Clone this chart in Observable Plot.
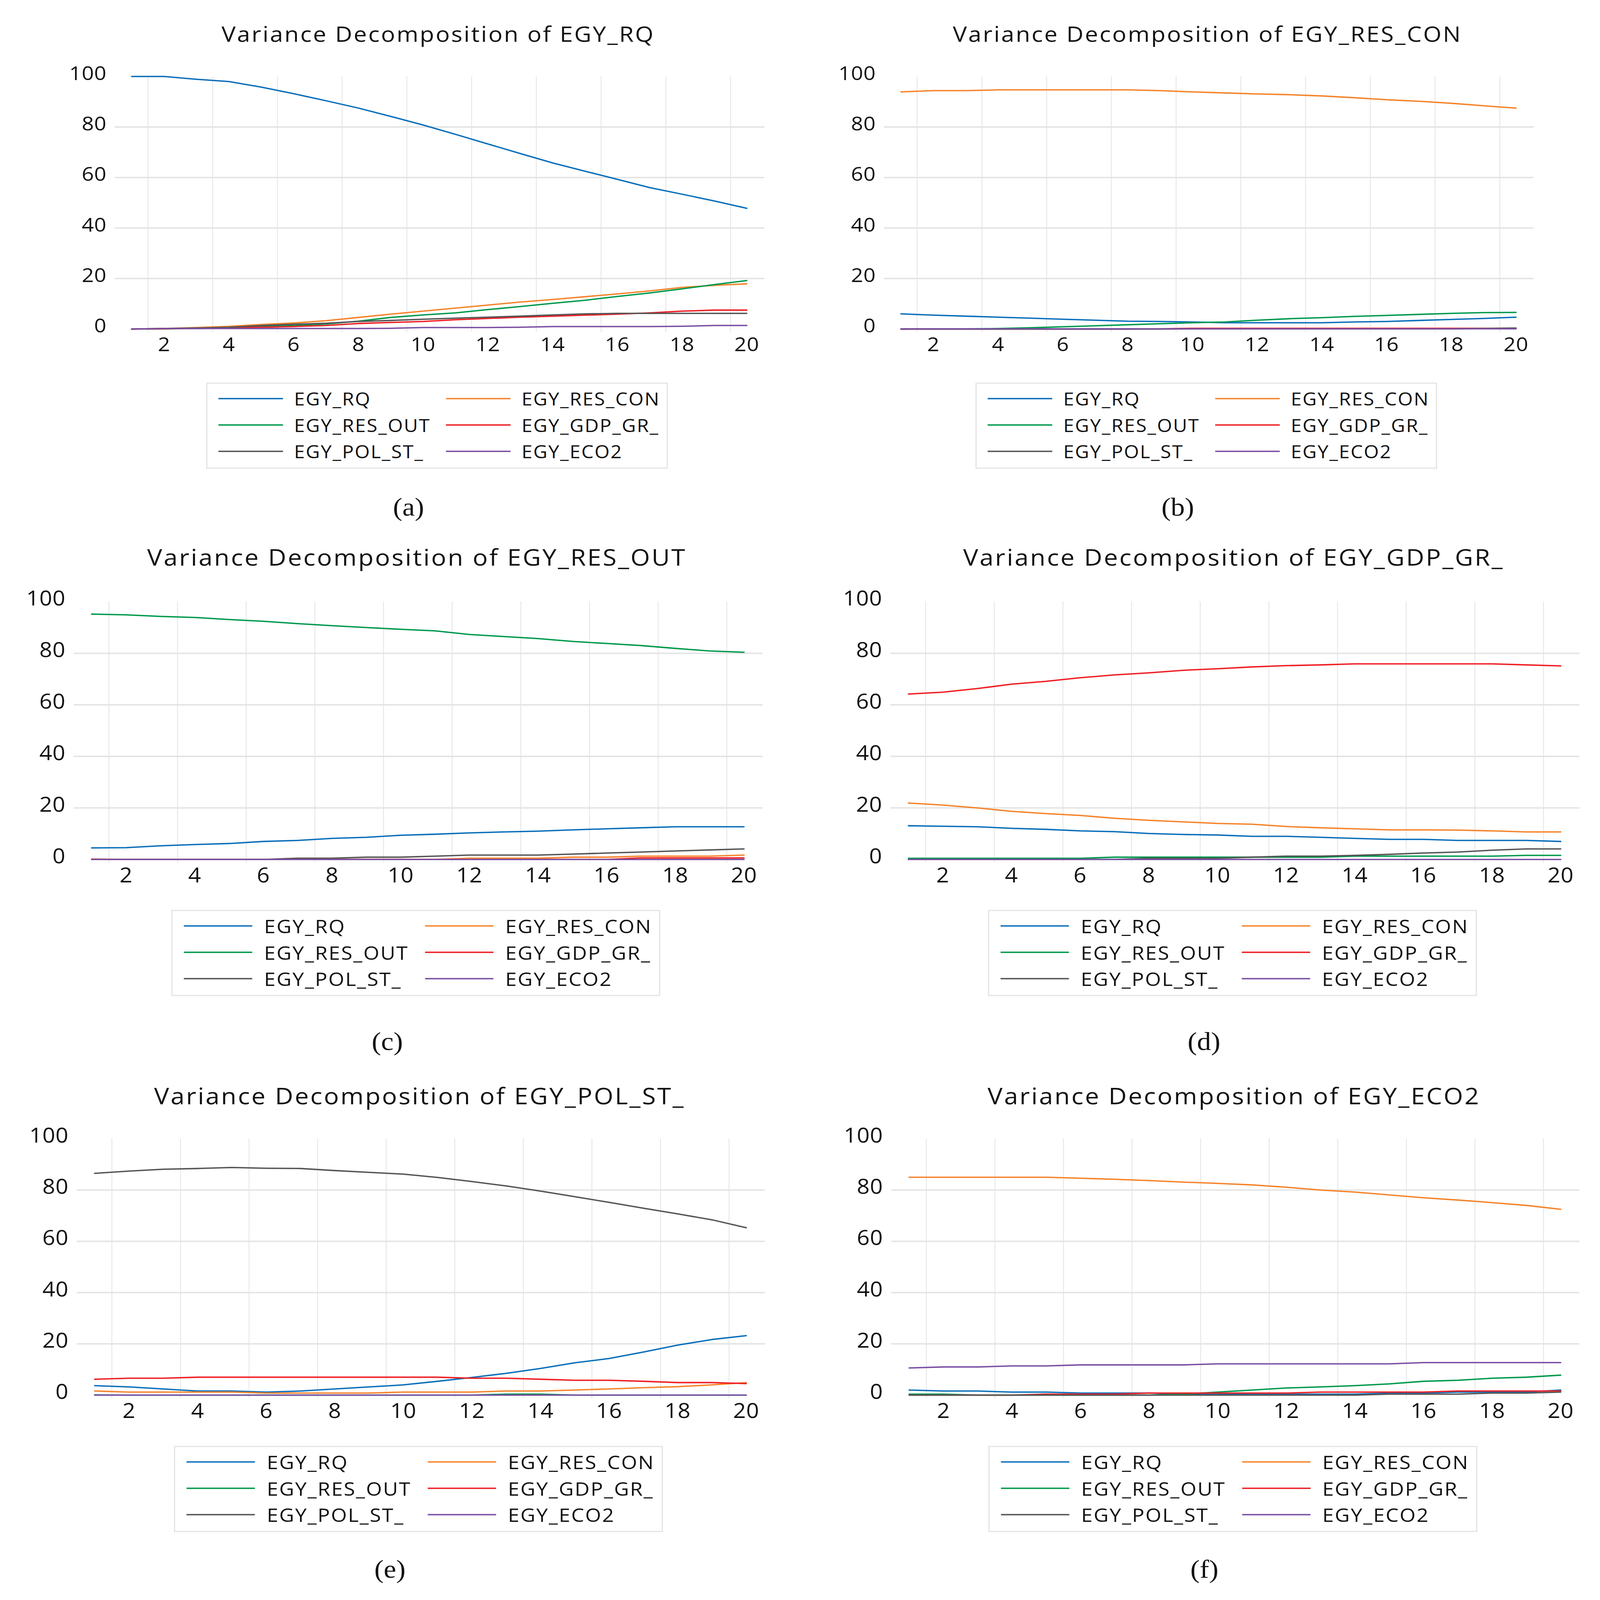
<!DOCTYPE html>
<html>
<head>
<meta charset="utf-8">
<script src="https://cdn.jsdelivr.net/npm/d3@7"></script>
<script src="https://cdn.jsdelivr.net/npm/@observablehq/plot@0.6"></script>
<style>
  html, body { margin: 0; padding: 0; background: #fff; overflow: hidden; }
  #page { position: relative; width: 4212px; height: 4612px; background: #fff; font-family: "Open Sans", sans-serif; color: #111; transform-origin: 0 0; }
  .title { position: absolute; white-space: nowrap; transform: translate(-50%, -50%); letter-spacing: 0.06em; }
  .lab { position: absolute; transform: translate(-50%, -50%); font-family: "Liberation Serif", serif; font-size: 74px; }
  .legend { position: absolute; border: 3px solid #e2e2e2; box-sizing: border-box; }
  .legend .sw { position: absolute; height: 4px; }
  .legend .tx { position: absolute; white-space: nowrap; transform: translateY(-50%); letter-spacing: 0.05em; }
  svg { overflow: visible; position: absolute; }
</style>
</head>
<body>
<div id="page"></div>
<script>
// horizons 1..20
const horizons = d3.range(1, 21);
const seriesNames = ["EGY_RQ", "EGY_RES_CON", "EGY_RES_OUT", "EGY_GDP_GR_", "EGY_POL_ST_", "EGY_ECO2"];
const seriesColors = ["#0b6fba", "#f5842c", "#00994c", "#ee1f25", "#555555", "#7a4fa3"];
const xTicks = [2, 4, 6, 8, 10, 12, 14, 16, 18, 20];
const yTicks = [0, 20, 40, 60, 80, 100];

// (a) Variance Decomposition of EGY_RQ
const a_RQ      = [100, 100, 98.9, 98.0, 95.8, 93.2, 90.4, 87.5, 84.2, 80.8, 77.1, 73.3, 69.5, 65.8, 62.5, 59.3, 56.0, 53.4, 50.7, 47.8];
const a_RES_CON = [0, 0.2, 0.6, 1.05, 1.8, 2.4, 3.3, 4.6, 5.9, 7.1, 8.3, 9.5, 10.7, 11.7, 12.8, 13.9, 15.1, 16.5, 17.3, 17.9];
const a_RES_OUT = [0, 0.1, 0.2, 0.5, 1.05, 1.4, 2.0, 3.1, 4.6, 5.6, 6.4, 7.7, 8.9, 10.2, 11.4, 12.9, 14.3, 15.9, 17.6, 19.2];
const a_GDP_GR  = [0, 0.1, 0.3, 0.5, 0.7, 1.0, 1.4, 2.2, 2.6, 3.0, 3.7, 4.2, 4.7, 5.1, 5.5, 5.9, 6.4, 7.1, 7.5, 7.5];
const a_POL_ST  = [0, 0.2, 0.4, 0.7, 1.4, 1.9, 2.3, 3.0, 3.4, 3.9, 4.3, 4.7, 5.1, 5.6, 6.0, 6.2, 6.2, 6.2, 6.2, 6.2];
const a_ECO2    = [0, 0.2, 0.2, 0.2, 0.2, 0.2, 0.2, 0.2, 0.3, 0.6, 0.6, 0.6, 0.7, 1.0, 1.0, 1.0, 1.0, 1.1, 1.4, 1.4];

// (b) Variance Decomposition of EGY_RES_CON
const b_RQ      = [6.0, 5.5, 5.1, 4.7, 4.3, 3.9, 3.5, 3.1, 3.0, 2.8, 2.5, 2.5, 2.5, 2.5, 2.8, 3.0, 3.4, 3.8, 4.2, 4.7];
const b_RES_CON = [93.9, 94.4, 94.4, 94.7, 94.7, 94.7, 94.7, 94.7, 94.4, 93.9, 93.5, 93.1, 92.8, 92.3, 91.6, 90.8, 90.2, 89.4, 88.4, 87.5];
const b_RES_OUT = [0, 0.1, 0.1, 0.2, 0.5, 0.9, 1.3, 1.7, 2.1, 2.5, 2.8, 3.5, 4.1, 4.5, 5.0, 5.4, 5.8, 6.2, 6.5, 6.6];
const b_GDP_GR  = [0, 0, 0, 0, 0, 0, 0, 0, 0.1, 0.3, 0.3, 0.3, 0.3, 0.3, 0.3, 0.3, 0.3, 0.3, 0.3, 0.3];
const b_POL_ST  = [0, 0, 0, 0, 0, 0, 0, 0, 0, 0.1, 0.1, 0.1, 0.1, 0.1, 0.1, 0.1, 0.1, 0.1, 0.2, 0.4];
const b_ECO2    = [0, 0.1, 0.1, 0.1, 0.1, 0.1, 0.1, 0.1, 0.1, 0.1, 0.1, 0.1, 0.1, 0.1, 0.1, 0.1, 0.1, 0.1, 0.1, 0.1];

// (c) Variance Decomposition of EGY_RES_OUT
const c_RQ      = [4.5, 4.6, 5.3, 5.8, 6.2, 7.0, 7.4, 8.2, 8.6, 9.4, 9.8, 10.3, 10.7, 11.0, 11.5, 11.9, 12.3, 12.7, 12.7, 12.7];
const c_RES_CON = [0.2, 0, 0, 0, 0, 0, 0, 0, 0, 0, 0, 0.5, 0.5, 0.5, 0.9, 0.9, 1.3, 1.3, 1.3, 1.7];
const c_RES_OUT = [95.2, 94.9, 94.3, 93.9, 93.1, 92.4, 91.5, 90.7, 90.0, 89.3, 88.7, 87.3, 86.5, 85.7, 84.6, 83.8, 83.0, 81.9, 80.9, 80.4];
const c_GDP_GR  = [0, 0, 0, 0, 0, 0, 0, 0, 0, 0, 0, 0, 0, 0, 0, 0, 0.6, 0.6, 0.6, 0.6];
const c_POL_ST  = [0, 0, 0, 0, 0, 0, 0.5, 0.5, 0.9, 0.9, 1.3, 1.7, 1.7, 1.7, 2.1, 2.5, 2.9, 3.3, 3.7, 4.1];
const c_ECO2    = [0, 0, 0, 0, 0, 0, 0, 0, 0, 0, 0, 0, 0, 0, 0, 0, 0, 0, 0, 0];

// (d) Variance Decomposition of EGY_GDP_GR_
const d_RQ      = [13.1, 12.9, 12.7, 12.1, 11.7, 11.1, 10.8, 10.1, 9.7, 9.5, 9.0, 9.0, 8.6, 8.2, 7.8, 7.8, 7.4, 7.4, 7.4, 7.0];
const d_RES_CON = [21.9, 21.1, 20.0, 18.7, 17.8, 17.1, 16.0, 15.2, 14.6, 14.0, 13.7, 12.8, 12.3, 11.9, 11.5, 11.5, 11.4, 11.1, 10.7, 10.7];
const d_RES_OUT = [0.45, 0.45, 0.45, 0.45, 0.45, 0.45, 0.9, 0.9, 0.9, 0.9, 0.9, 0.9, 0.9, 1.3, 1.3, 1.3, 1.3, 1.3, 1.6, 1.6];
const d_GDP_GR  = [64.2, 64.9, 66.3, 68.0, 69.1, 70.5, 71.6, 72.4, 73.4, 74.0, 74.7, 75.2, 75.5, 75.9, 75.9, 75.9, 75.9, 75.9, 75.5, 75.1];
const d_POL_ST  = [0, 0, 0, 0, 0, 0, 0, 0.45, 0.45, 0.45, 0.9, 1.3, 1.3, 1.6, 2.0, 2.5, 2.9, 3.6, 4.1, 4.1];
const d_ECO2    = [0, 0, 0, 0, 0, 0, 0, 0, 0, 0, 0, 0, 0, 0, 0, 0, 0, 0, 0, 0];

// (e) Variance Decomposition of EGY_POL_ST_
const e_RQ      = [3.7, 3.2, 2.4, 1.6, 1.6, 1.2, 1.6, 2.4, 3.2, 4.0, 5.4, 6.9, 8.5, 10.4, 12.6, 14.3, 16.8, 19.5, 21.7, 23.2];
const e_RES_CON = [1.6, 1.2, 1.2, 1.2, 1.2, 0.8, 0.8, 0.8, 0.8, 1.2, 1.2, 1.2, 1.6, 1.6, 2.0, 2.4, 2.9, 3.3, 4.0, 4.9];
const e_RES_OUT = [0.1, 0, 0, 0, 0, 0, 0, 0, 0, 0, 0, 0, 0.4, 0.4, 0, 0, 0, 0, 0, 0];
const e_GDP_GR  = [6.2, 6.6, 6.6, 7.0, 7.0, 7.0, 7.0, 7.0, 7.0, 7.0, 7.0, 6.6, 6.6, 6.2, 5.8, 5.8, 5.4, 4.9, 4.9, 4.5];
const e_POL_ST  = [86.5, 87.4, 88.1, 88.4, 88.8, 88.5, 88.4, 87.6, 86.9, 86.2, 84.9, 83.3, 81.6, 79.6, 77.4, 75.2, 72.9, 70.7, 68.4, 65.3];
const e_ECO2    = [0, 0, 0, 0, 0, 0, 0, 0, 0, 0, 0, 0, 0, 0, 0, 0, 0, 0, 0, 0];

// (f) Variance Decomposition of EGY_ECO2
const f_RQ      = [2.0, 1.6, 1.6, 1.2, 1.2, 0.8, 0.8, 0.8, 0.4, 0.4, 0.4, 0.4, 0.4, 0.4, 0.8, 0.8, 1.2, 1.2, 1.2, 2.0];
const f_RES_CON = [85.0, 85.0, 85.0, 85.0, 85.0, 84.6, 84.2, 83.7, 83.1, 82.6, 82.0, 81.1, 80.0, 79.2, 78.1, 77.0, 76.1, 75.1, 74.0, 72.5];
const f_RES_OUT = [0.4, 0.4, 0, 0, 0, 0, 0, 0, 0.4, 1.2, 2.0, 2.8, 3.2, 3.7, 4.4, 5.4, 5.8, 6.6, 7.0, 7.8];
const f_GDP_GR  = [0, 0, 0, 0, 0.4, 0.4, 0.4, 0.8, 0.8, 0.8, 0.8, 0.8, 1.2, 1.2, 1.2, 1.2, 1.6, 1.6, 1.6, 1.6];
const f_POL_ST  = [0, 0, 0, 0, 0, 0, 0, 0, 0, 0, 0, 0, 0, 0, 0.4, 0.4, 0.4, 0.8, 0.8, 1.2];
const f_ECO2    = [10.6, 11.0, 11.0, 11.4, 11.4, 11.8, 11.8, 11.8, 11.8, 12.2, 12.2, 12.2, 12.2, 12.2, 12.2, 12.7, 12.7, 12.7, 12.7, 12.7];

// panel layout (pixel positions on the 4212x4612 page)
const panels = [
  {label: "(a)", title: "Variance Decomposition of EGY_RQ", series: [a_RQ, a_RES_CON, a_RES_OUT, a_GDP_GR, a_POL_ST, a_ECO2],
   pt1: 346, pt20: 1965, y100: 220, y0: 948, s: 1, titleY: 96, legTop: 1103, labY: 1462},
  {label: "(b)", title: "Variance Decomposition of EGY_RES_CON", series: [b_RQ, b_RES_CON, b_RES_OUT, b_GDP_GR, b_POL_ST, b_ECO2],
   pt1: 2371, pt20: 3990, y100: 220, y0: 948, s: 1, titleY: 96, legTop: 1103, labY: 1462},
  {label: "(c)", title: "Variance Decomposition of EGY_RES_OUT", series: [c_RQ, c_RES_CON, c_RES_OUT, c_GDP_GR, c_POL_ST, c_ECO2],
   pt1: 241, pt20: 1958, y100: 1734, y0: 2477, s: 1.06, titleY: 1604, legTop: 2623, labY: 3002},
  {label: "(d)", title: "Variance Decomposition of EGY_GDP_GR_", series: [d_RQ, d_RES_CON, d_RES_OUT, d_GDP_GR, d_POL_ST, d_ECO2],
   pt1: 2391, pt20: 4108, y100: 1734, y0: 2477, s: 1.06, titleY: 1604, legTop: 2623, labY: 3002},
  {label: "(e)", title: "Variance Decomposition of EGY_POL_ST_", series: [e_RQ, e_RES_CON, e_RES_OUT, e_GDP_GR, e_POL_ST, e_ECO2],
   pt1: 249, pt20: 1964, y100: 3282, y0: 4021, s: 1.06, titleY: 3157, legTop: 4168, labY: 4523},
  {label: "(f)", title: "Variance Decomposition of EGY_ECO2", series: [f_RQ, f_RES_CON, f_RES_OUT, f_GDP_GR, f_POL_ST, f_ECO2],
   pt1: 2393, pt20: 4108, y100: 3282, y0: 4021, s: 1.06, titleY: 3157, legTop: 4168, labY: 4523},
];

const page = d3.select("#page");
const xDomain = [0.48, 20.55];
const yDomain = [-1.3, 100];

// the window we get can be smaller than 4212x4612: stretch the page to fill it
const vw = document.documentElement.clientWidth, vh = document.documentElement.clientHeight;
const sx = Math.min(1, vw / 4212), sy = Math.min(1, vh / 4612);
page.style("transform", "scale(" + sx + "," + sy + ")");

panels.forEach(p => {
  let u = (p.pt20 - p.pt1) / 19;
  let fl = p.pt1 - (1 - xDomain[0]) * u;
  let fr = p.pt20 + (xDomain[1] - 20) * u;
  let yu = (p.y0 - p.y100) / 100;
  let fb = p.y0 - yDomain[0] * yu;
  let mL = 220, mR = 40, mT = 50, mB = 110;
  let fs = Math.round(56 * p.s);
  let center = (p.pt1 + p.pt20) / 2;

  let rows = [];
  p.series.forEach((vals, k) => {
    vals.forEach((v, i) => rows.push({h: horizons[i], v: v, series: seriesNames[k]}));
  });

  let chart = Plot.plot({
    width: fr - fl + mL + mR,
    height: fb - p.y100 + mT + mB,
    marginLeft: mL, marginRight: mR, marginTop: mT, marginBottom: mB,
    x: {domain: xDomain},
    y: {domain: yDomain},
    color: {domain: seriesNames, range: seriesColors},
    style: {fontFamily: "Open Sans", color: "#111", background: "transparent", letterSpacing: "0.07em"},
    marks: [
      Plot.gridX(d3.range(1.5, 20, 2), {stroke: "#e8e8e8", strokeOpacity: 1, strokeWidth: 2.5}),
      Plot.gridY([20, 40, 60, 80], {stroke: "#e3e3e3", strokeOpacity: 1, strokeWidth: 4}),
      Plot.axisY(yTicks, {tickSize: 0, tickPadding: 22, fontSize: fs, dy: -8, label: null}),
      Plot.axisX(xTicks, {tickSize: 0, tickPadding: 14, fontSize: fs, label: null}),
      Plot.line(rows, {x: "h", y: "v", z: "series", stroke: "series", strokeWidth: 4})
    ]
  });

  d3.select(chart)
    .style("left", (fl - mL) + "px")
    .style("top", (p.y100 - mT) + "px");
  page.append(() => chart);

  page.append("div").attr("class", "title")
    .style("left", (center - 2) + "px").style("top", p.titleY + "px")
    .style("font-size", Math.round(62 * p.s) + "px")
    .text(p.title);

  // legend box
  let bw = 1215 * p.s, bh = 248;
  let leg = page.append("div").attr("class", "legend")
    .style("left", (center - 5 - bw / 2) + "px").style("top", p.legTop + "px")
    .style("width", bw + "px").style("height", bh + "px");
  seriesNames.forEach((name, j) => {
    let col = j % 2, row = Math.floor(j / 2);
    let x0 = (29 + col * 599) * p.s;
    let y = 43 + row * 76;
    leg.append("div").attr("class", "sw")
      .style("left", x0 + "px").style("top", (y - 2) + "px")
      .style("width", (170 * p.s) + "px").style("background", seriesColors[j]);
    leg.append("div").attr("class", "tx")
      .style("left", (x0 + 199 * p.s) + "px").style("top", y + "px")
      .style("font-size", Math.round(51 * p.s) + "px")
      .text(name);
  });

  page.append("div").attr("class", "lab")
    .style("left", (center - 80) + "px").style("top", p.labY + "px")
    .text(p.label);
});
</script>
</body>
</html>
